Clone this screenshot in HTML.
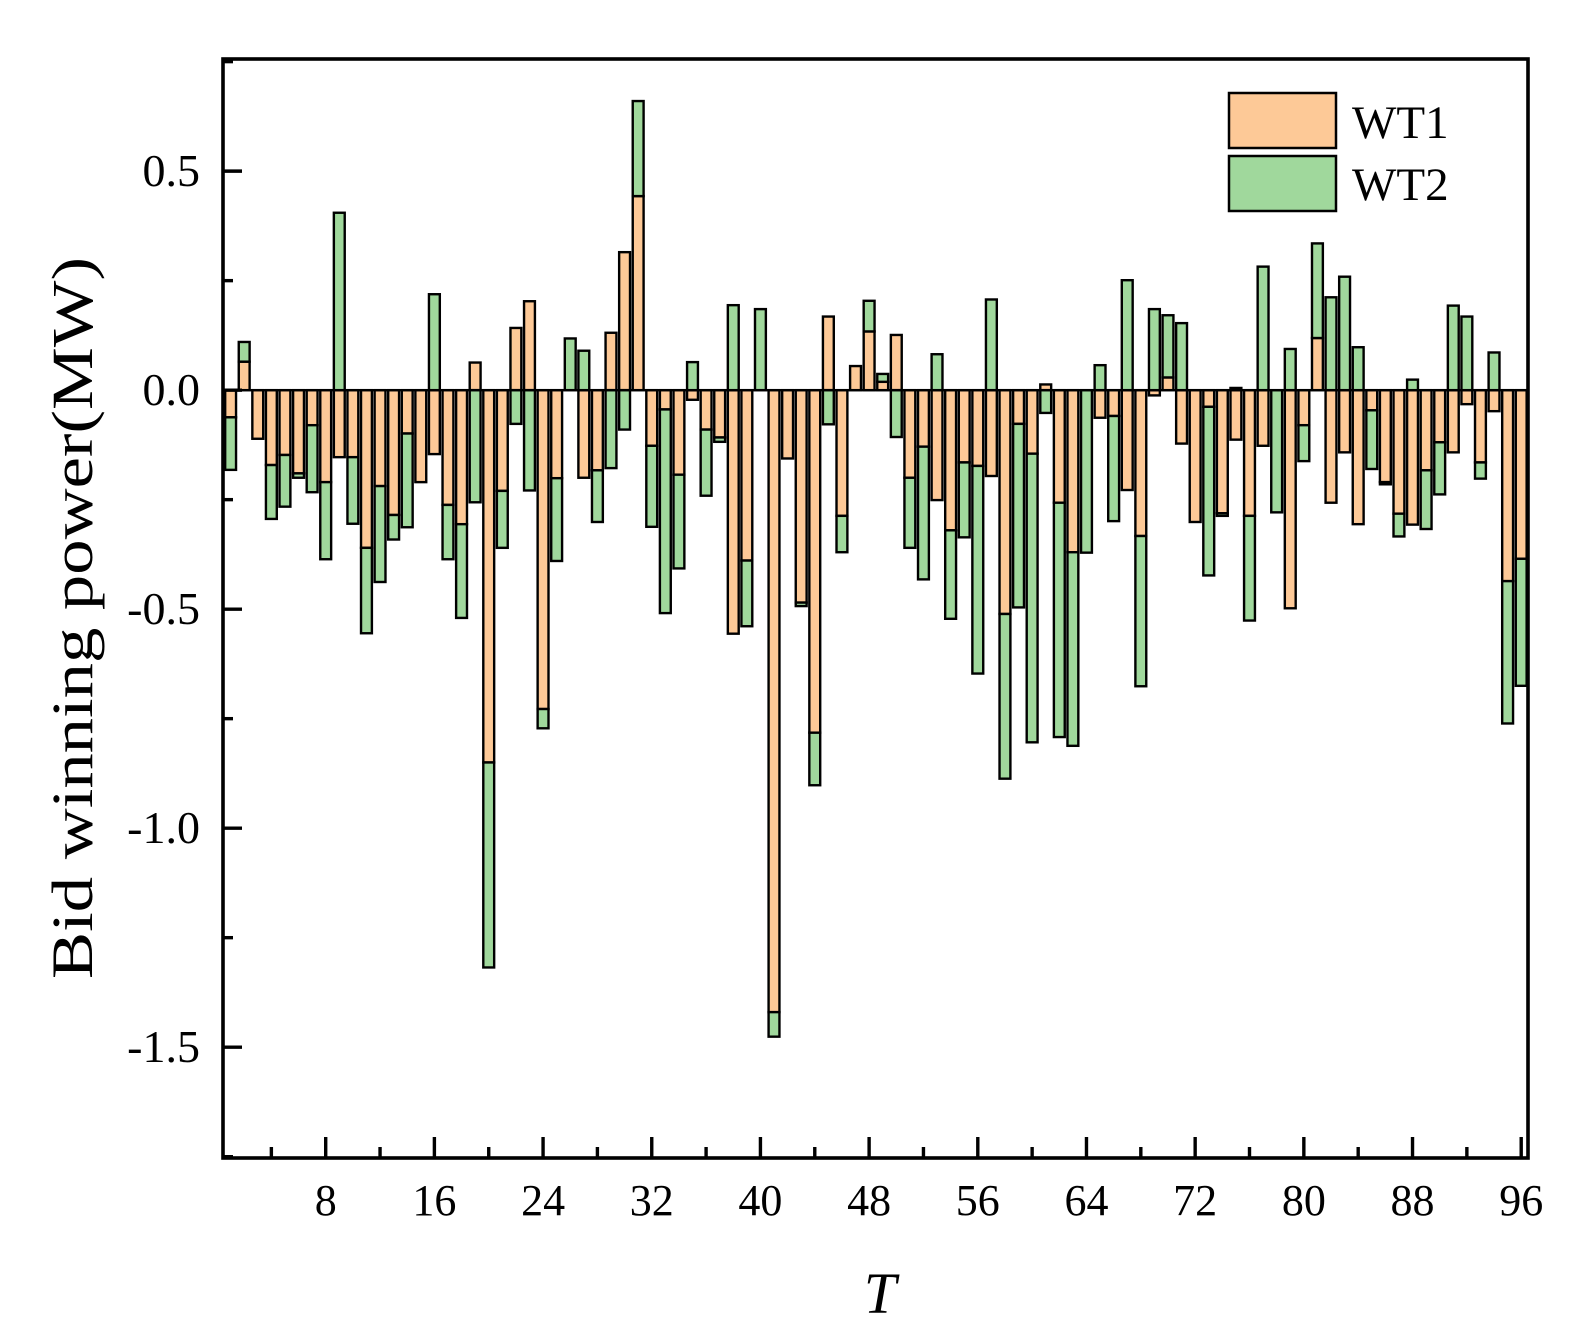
<!DOCTYPE html>
<html>
<head>
<meta charset="utf-8">
<style>
  html, body { margin: 0; padding: 0; background: #fff; }
  svg { display: block; }
  text { font-family: "Liberation Serif", "DejaVu Serif", serif; fill: #000; }
</style>
</head>
<body>
<svg id="chart" width="1592" height="1344" viewBox="0 0 1592 1344" xmlns="http://www.w3.org/2000/svg">
  <g id="bars"></g>
  <g id="axes"></g>
  <text transform="translate(92,618) rotate(-90)" text-anchor="middle" font-size="58" textLength="722" lengthAdjust="spacingAndGlyphs">Bid winning power(MW)</text>
  <text x="880" y="1313" text-anchor="middle" font-size="58" font-style="italic">T</text>
  <g>
    <rect x="1229" y="93" width="107" height="55" fill="#FDC997" stroke="#000" stroke-width="2.5"/>
    <text x="1352" y="138" font-size="47">WT1</text>
    <rect x="1229" y="156" width="107" height="55" fill="#A0D89C" stroke="#000" stroke-width="2.5"/>
    <text x="1352" y="200" font-size="47">WT2</text>
  </g>
</svg>
<script>
const periods = Array.from({length: 96}, (_, i) => i + 1);
const wt1 = [
 -0.062, 0.065, -0.111, -0.171, -0.148, -0.19, -0.08, -0.21, -0.153, -0.153,
 -0.36, -0.219, -0.285, -0.099, -0.21, -0.146, -0.262, -0.306, 0.063, -0.85,
 -0.23, 0.142, 0.203, -0.728, -0.201, 0, -0.2, -0.183, 0.131, 0.315,
 0.443, -0.127, -0.044, -0.193, -0.022, -0.09, -0.108, -0.556, -0.389, 0,
 -1.42, -0.156, -0.485, -0.782, 0.168, -0.287, 0.055, 0.134, 0.019, 0.126,
 -0.2, -0.129, -0.251, -0.32, -0.165, -0.173, -0.196, -0.511, -0.077, -0.145,
 0.013, -0.257, -0.37, 0, -0.063, -0.059, -0.228, -0.333, -0.012, 0.029,
 -0.122, -0.301, -0.038, -0.281, -0.113, -0.287, -0.127, 0, -0.498, -0.08,
 0.119, -0.257, -0.142, -0.306, -0.046, -0.21, -0.282, -0.307, -0.183, -0.119,
 -0.142, -0.032, -0.165, -0.048, -0.436, -0.385
];
const wt2 = [
 -0.12, 0.045, 0, -0.123, -0.118, -0.01, -0.153, -0.176, 0.405, -0.152,
 -0.195, -0.219, -0.056, -0.214, 0, 0.219, -0.124, -0.214, -0.256, -0.468,
 -0.13, -0.077, -0.229, -0.044, -0.189, 0.118, 0.09, -0.118, -0.178, -0.09,
 0.217, -0.185, -0.465, -0.214, 0.064, -0.151, -0.01, 0.194, -0.15, 0.185,
 -0.056, 0, -0.008, -0.12, -0.078, -0.083, 0, 0.07, 0.018, -0.107,
 -0.16, -0.303, 0.082, -0.202, -0.171, -0.474, 0.207, -0.376, -0.419, -0.659,
 -0.052, -0.535, -0.442, -0.371, 0.057, -0.24, 0.251, -0.343, 0.185, 0.142,
 0.153, 0, -0.385, -0.006, 0.005, -0.239, 0.282, -0.279, 0.094, -0.082,
 0.216, 0.212, 0.259, 0.098, -0.134, -0.005, -0.052, 0.024, -0.134, -0.119,
 0.193, 0.168, -0.037, 0.086, -0.325, -0.29
];
const yTickValues = [0.5, 0.0, -0.5, -1.0, -1.5];
const yTickLabels = ["0.5", "0.0", "-0.5", "-1.0", "-1.5"];
const yMinorTicks = [0.75, 0.25, -0.25, -0.75, -1.25, -1.75];
const xTickValues = [8, 16, 24, 32, 40, 48, 56, 64, 72, 80, 88, 96];
const xTickLabels = ["8", "16", "24", "32", "40", "48", "56", "64", "72", "80", "88", "96"];
const xMinorTicks = [4, 12, 20, 28, 36, 44, 52, 60, 68, 76, 84, 92];

const NS = "http://www.w3.org/2000/svg";
const plot = { left: 223, right: 1528, top: 59, bottom: 1158 };
const yDomain = [-1.753, 0.756];
const xDomain = [0.44, 96.5];
function yScale(v) { return plot.bottom - (v - yDomain[0]) / (yDomain[1] - yDomain[0]) * (plot.bottom - plot.top); }
function xScale(v) { return plot.left + (v - xDomain[0]) / (xDomain[1] - xDomain[0]) * (plot.right - plot.left); }
const barW = (xScale(1) - xScale(0)) * 0.8;

function mk(tag, attrs, parent) {
  const el = document.createElementNS(NS, tag);
  for (const k in attrs) el.setAttribute(k, attrs[k]);
  parent.appendChild(el);
  return el;
}

const barsG = document.getElementById("bars");
periods.forEach((p, i) => {
  let pos = 0, neg = 0;
  const series = [[wt1[i], "#FDC997", "bar-wt1"], [wt2[i], "#A0D89C", "bar-wt2"]];
  series.forEach(([v, color, name]) => {
    if (v === 0) return;
    let a, b;
    if (v > 0) { a = pos; b = pos + v; pos = b; } else { a = neg; b = neg + v; neg = b; }
    const y1 = yScale(Math.max(a, b)), y2 = yScale(Math.min(a, b));
    const r = mk("rect", { x: xScale(p) - barW / 2, y: y1, width: barW, height: Math.max(y2 - y1, 0.5), fill: color, stroke: "#000", "stroke-width": 2.4 }, barsG);
    
    
  });
});

const axesG = document.getElementById("axes");
const frame = mk("rect", { x: plot.left, y: plot.top, width: plot.right - plot.left, height: plot.bottom - plot.top, fill: "none", stroke: "#000", "stroke-width": 3.6 }, axesG);


const zl = mk("line", { x1: plot.left, x2: plot.right, y1: yScale(0), y2: yScale(0), stroke: "#000", "stroke-width": 2.4 }, axesG);



yTickValues.forEach((v, i) => {
  const y = yScale(v);
  const t = mk("line", { x1: plot.left, x2: plot.left + 19, y1: y, y2: y, stroke: "#000", "stroke-width": 3.4 }, axesG);
  
  
  const lb = mk("text", { x: 200, y: y + 15, "text-anchor": "end", "font-size": 46 }, axesG);
  lb.textContent = yTickLabels[i];
  
  
});
yMinorTicks.forEach(v => {
  const y = yScale(v);
  const t = mk("line", { x1: plot.left, x2: plot.left + 10, y1: y, y2: y, stroke: "#000", "stroke-width": 3.4 }, axesG);
  
  
});
xTickValues.forEach((v, i) => {
  const x = xScale(v);
  const t = mk("line", { x1: x, x2: x, y1: plot.bottom, y2: plot.bottom - 21, stroke: "#000", "stroke-width": 3.4 }, axesG);
  
  
  const lb = mk("text", { x: x, y: 1215, "text-anchor": "middle", "font-size": 44 }, axesG);
  lb.textContent = xTickLabels[i];
  
  
});
xMinorTicks.forEach(v => {
  const x = xScale(v);
  const t = mk("line", { x1: x, x2: x, y1: plot.bottom, y2: plot.bottom - 11, stroke: "#000", "stroke-width": 3.4 }, axesG);
  
  
});
</script>
</body>
</html>
